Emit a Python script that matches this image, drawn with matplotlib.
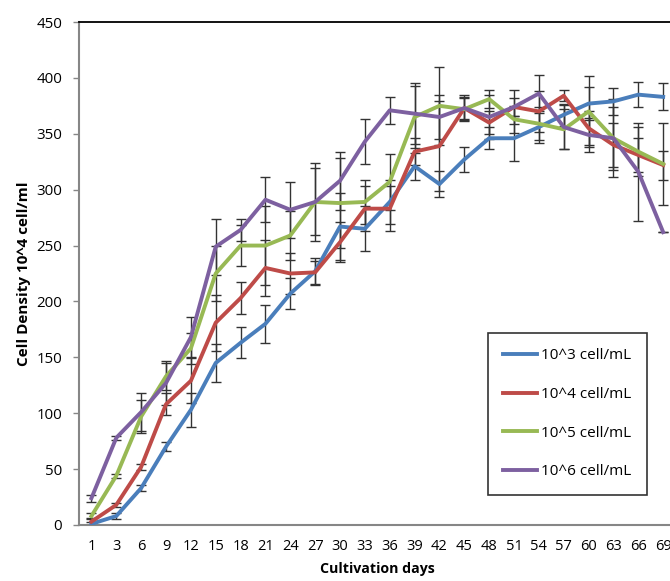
import numpy as np
import matplotlib
matplotlib.use('Agg')
import matplotlib.pyplot as plt

days = [1, 3, 6, 9, 12, 15, 18, 21, 24, 27, 30, 33, 36, 39, 42, 45, 48, 51, 54, 57, 60, 63, 66, 69]

d3 = [1, 8, 33, 70, 103, 145, 163, 180, 207, 227, 267, 265, 289, 321, 305, 327, 346, 346, 356, 367, 377, 379, 385, 383]
d4 = [3, 18, 52, 108, 129, 181, 203, 230, 225, 226, 253, 283, 283, 334, 339, 373, 360, 374, 370, 384, 355, 340, 331, 322]
d5 = [8, 44, 97, 133, 158, 225, 250, 250, 259, 289, 288, 289, 307, 365, 375, 372, 381, 363, 359, 354, 370, 346, 334, 323]
d6 = [24, 78, 101, 127, 168, 249, 264, 291, 282, 289, 308, 343, 371, 368, 365, 373, 365, 374, 386, 356, 349, 346, 316, 262]

e3 = [2, 3, 3, 4, 15, 17, 14, 17, 14, 12, 30, 20, 20, 12, 12, 11, 10, 20, 14, 10, 15, 12, 11, 12]
e4 = [3, 2, 3, 10, 20, 25, 14, 25, 18, 10, 18, 20, 20, 12, 40, 10, 10, 8, 18, 5, 15, 20, 15, 13]
e5 = [3, 2, 15, 12, 14, 25, 18, 35, 22, 35, 40, 20, 25, 28, 35, 10, 8, 12, 15, 18, 32, 28, 22, 37]
e6 = [3, 2, 17, 20, 18, 25, 10, 20, 25, 30, 26, 20, 12, 27, 20, 12, 20, 15, 17, 20, 15, 35, 44, 0]

labels = ['10^3 cell/mL', '10^4 cell/mL', '10^5 cell/mL', '10^6 cell/mL']
colors = ['#4A7EBB', '#BE4B48', '#98B954', '#7D60A0']

plt.rcParams['font.family'] = ['Open Sans', 'DejaVu Sans']

fig = plt.figure(figsize=(6.7, 5.81), dpi=100)
ax = fig.add_axes([79 / 670, 1 - 525 / 581, (675.6 - 79) / 670, (525 - 22) / 581])

x = np.arange(len(days))
for vals, errs, lab, col in zip([d3, d4, d5, d6], [e3, e4, e5, e6], labels, colors):
    ax.errorbar(x, vals, yerr=errs, fmt='none', ecolor='#333333', elinewidth=1,
                capsize=3.5, capthick=1, zorder=2)
    ax.plot(x, vals, color=col, lw=2.8, label=lab, zorder=3)

ax.set_xlim(-0.5, len(days) - 0.5)
ax.set_ylim(0, 450)
ax.set_yticks(range(0, 451, 50))
ax.set_xticks(x)
ax.set_xticklabels([str(d) for d in days])
ax.tick_params(axis='x', length=0, pad=10, labelsize=10.5)
ax.tick_params(axis='y', length=4, width=1, color='#868686', pad=8, labelsize=10.8)

for s in ['left', 'bottom']:
    ax.spines[s].set_color('#868686')
    ax.spines[s].set_linewidth(1.5)
ax.spines['top'].set_color('black')
ax.spines['top'].set_linewidth(1.3)
ax.spines['right'].set_visible(False)

ax.set_xlabel('Cultivation days', fontweight='bold', fontsize=10.2, labelpad=6)
ax.set_ylabel('Cell Density 10^4 cell/ml', fontweight='bold', fontsize=11, labelpad=4)

leg = ax.legend(loc='upper left', bbox_to_anchor=((488 - 79) / (675.6 - 79), (525 - 333) / 503),
                frameon=True, fancybox=False, edgecolor='black', fontsize=11,
                handlelength=2.2, labelspacing=1.55, borderpad=1.0, handletextpad=0.3,
                borderaxespad=0)
leg.get_frame().set_linewidth(1.2)

fig.savefig('out.png', dpi=100)
